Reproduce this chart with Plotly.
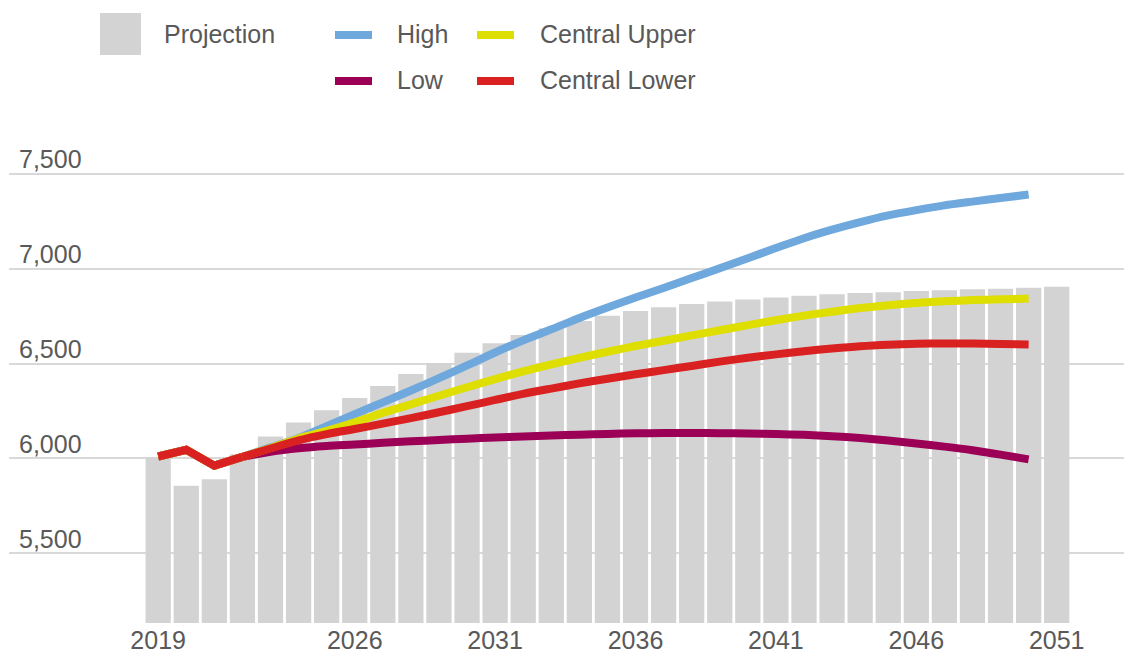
import plotly.graph_objects as go

# ---------------- data ----------------
bar_years = list(range(2019, 2052))
projection = [6008, 5856, 5890, 6022, 6116, 6189, 6254, 6318, 6381, 6445,
              6503, 6556, 6607, 6650, 6686, 6724, 6752, 6777, 6796, 6813,
              6827, 6837, 6848, 6857, 6865, 6871, 6875, 6882, 6886, 6891,
              6894, 6899, 6905]

line_years = list(range(2019, 2051))
high = [6010, 6045, 5962, 6008, 6058, 6108, 6170, 6233, 6295, 6358,
        6423, 6490, 6558, 6622, 6680, 6740, 6795, 6848, 6898, 6950,
        7002, 7055, 7108, 7160, 7205, 7245, 7280, 7308, 7333, 7353,
        7372, 7390]
central_upper = [6010, 6045, 5962, 6008, 6055, 6105, 6145, 6190, 6240, 6285,
                 6330, 6375, 6418, 6458, 6495, 6530, 6562, 6592, 6620, 6648,
                 6675, 6702, 6728, 6752, 6773, 6792, 6807, 6819, 6828, 6834,
                 6838, 6842]
central_lower = [6010, 6045, 5962, 6008, 6052, 6095, 6128, 6155, 6183, 6212,
                 6243, 6275, 6308, 6340, 6368, 6395, 6420, 6443, 6465, 6487,
                 6510, 6530, 6548, 6565, 6579, 6591, 6599, 6604, 6606, 6605,
                 6603, 6600]
low = [6010, 6045, 5962, 6008, 6035, 6053, 6065, 6073, 6082, 6090,
       6097, 6104, 6110, 6116, 6121, 6125, 6129, 6132, 6134, 6134,
       6133, 6131, 6128, 6124, 6117, 6107, 6094, 6079, 6062, 6043,
       6020, 5995]

x_tick_years = [2019, 2026, 2031, 2036, 2041, 2046, 2051]
y_tick_values = [5500, 6000, 6500, 7000, 7500]

series_names = ["High", "Low", "Central Upper", "Central Lower"]
series_values = [high, low, central_upper, central_lower]
series_colors = ["#6FA8DC", "#9B0056", "#DEDE00", "#D92121"]
HIST_END = 3  # index of 2022, last outturn year

# ---------------- layout constants ----------------
W, H = 1124, 657
L, R, T, B = 9, 0, 110, 34
TEXT = "#595959"
FONT = "Liberation Sans, Arial, sans-serif"
BAR = "#D3D3D3"


def px_x(p):
    return (p - L) / (W - L - R)


def px_y(p):
    return (H - B - p) / (H - T - B)


fig = go.Figure()
fig.add_trace(go.Bar(x=bar_years, y=projection, marker=dict(color=BAR, line=dict(width=0)),
                     name="Projection", showlegend=False, hoverinfo="x+y"))
for name, vals, col in zip(series_names, series_values, series_colors):
    fig.add_trace(go.Scatter(x=line_years[:HIST_END + 1], y=vals[:HIST_END + 1],
                             mode="lines", name=name, legendgroup=name,
                             line=dict(color=col, width=8), showlegend=False))
    fig.add_trace(go.Scatter(x=line_years[HIST_END:], y=vals[HIST_END:],
                             mode="lines", name=name, legendgroup=name,
                             line=dict(color=col, width=8, shape="spline", smoothing=0.8),
                             showlegend=False))

# ---------------- manual legend ----------------
shapes = [dict(type="rect", xref="paper", yref="paper",
               x0=px_x(100), x1=px_x(141), y0=px_y(13), y1=px_y(55),
               fillcolor=BAR, line=dict(width=0))]
annotations = [dict(text="Projection", xref="paper", yref="paper",
                    x=px_x(162), y=px_y(34), xanchor="left", yanchor="middle",
                    showarrow=False, font=dict(size=25, color=TEXT, family=FONT))]
legend_pos = {"High": (335, 395, 35), "Low": (335, 395, 81),
              "Central Upper": (477, 538, 35), "Central Lower": (477, 538, 81)}
for name, col in zip(series_names, series_colors):
    lx, tx, cy = legend_pos[name]
    shapes.append(dict(type="line", xref="paper", yref="paper",
                       x0=px_x(lx), x1=px_x(lx + 37), y0=px_y(cy), y1=px_y(cy),
                       line=dict(color=col, width=8)))
    annotations.append(dict(text=name, xref="paper", yref="paper",
                            x=px_x(tx), y=px_y(cy - 1), xanchor="left", yanchor="middle",
                            showarrow=False, font=dict(size=25, color=TEXT, family=FONT)))

fig.update_layout(
    width=W, height=H,
    margin=dict(l=L, r=R, t=T, b=B, pad=0),
    paper_bgcolor="white", plot_bgcolor="white",
    bargap=0.1,
    font=dict(family=FONT, size=25, color=TEXT),
    shapes=shapes, annotations=annotations,
    showlegend=False,
)
fig.update_xaxes(range=[2013.687, 2053.397], tickmode="array", tickvals=x_tick_years,
                 ticks="", showgrid=False, zeroline=False, showline=False,
                 tickfont=dict(size=25, color=TEXT, family=FONT))
fig.update_yaxes(range=[5132.8, 7835.6], tickmode="array", tickvals=y_tick_values,
                 tickformat=",", ticks="", showgrid=True, gridcolor="#D9D9D9",
                 gridwidth=2, zeroline=False, showline=False,
                 ticklabelposition="inside top", ticklabelstandoff=7, ticklabelshift=3,
                 tickfont=dict(size=25, color=TEXT, family=FONT))

fig.write_html("out.html", config={"displayModeBar": False},
               post_script="document.body.style.margin='0';document.body.style.overflow='hidden';")
